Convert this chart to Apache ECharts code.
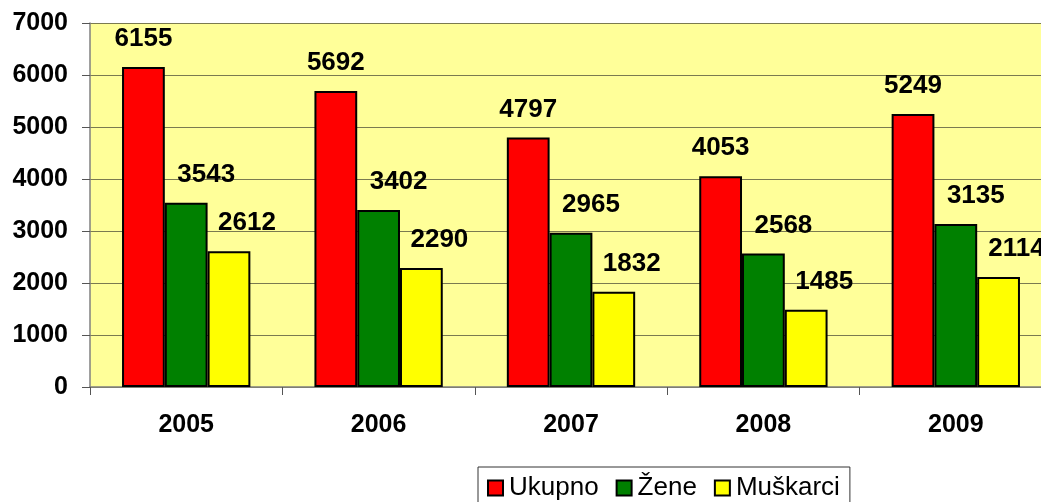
<!DOCTYPE html>
<head>
  <meta charset="utf-8">
  <script src="https://cdn.jsdelivr.net/npm/echarts@6/dist/echarts.min.js"></script>
  <style>
    html,body{margin:0;padding:0;background:#fff;}
    #chart{width:1041px;height:502px;}
  </style>
</head>
<body>
  <div id="chart"></div>
  <script>
    var years = ['2005', '2006', '2007', '2008', '2009'];
    var ukupno = [6155, 5692, 4797, 4053, 5249];
    var zene = [3543, 3402, 2965, 2568, 3135];
    var muskarci = [2612, 2290, 1832, 1485, 2114];
    var yTicks = [0, 1000, 2000, 3000, 4000, 5000, 6000, 7000];

    var font = "'Liberation Sans', Arial, sans-serif";
    function bar(name, data, color, dx){
      return {
        name: name,
        type: 'bar',
        data: data,
        barGap: '0%',
        barCategoryGap: '33.3%',
        itemStyle: {color: color, borderColor: '#000', borderWidth: 2},
        label: {
          show: true,
          position: 'top',
          distance: 15,
          offset: [dx, 0],
          color: '#000',
          fontFamily: font,
          fontWeight: 'bold',
          fontSize: 26
        }
      };
    }

    var myChart = echarts.init(document.getElementById('chart'));
    myChart.setOption({
      animation: false,
      backgroundColor: '#fff',
      grid: {
        left: 90, top: 23, bottom: 115, width: 962,
        outerBoundsMode: 'none', containLabel: false,
        show: true, backgroundColor: '#FFFF99', borderWidth: 0
      },
      legend: {
        left: 478, top: 467,
        padding: [8, 10, 8, 9],
        borderColor: '#333', borderWidth: 1,
        itemWidth: 15, itemHeight: 15, itemGap: 17,
        icon: 'rect',
        itemStyle: {borderColor: '#000', borderWidth: 2},
        textStyle: {fontFamily: font, fontSize: 26, color: '#000', padding: [0, 0, 0, 1]}
      },
      xAxis: {
        type: 'category',
        data: years,
        axisLine: {lineStyle: {color: '#808080', width: 1.5}},
        axisTick: {show: true, length: 8, lineStyle: {color: '#555'}},
        axisLabel: {margin: 26, color: '#000', fontFamily: font, fontWeight: 'bold', fontSize: 25}
      },
      yAxis: {
        type: 'value',
        min: yTicks[0], max: yTicks[yTicks.length - 1], interval: 1000,
        axisLine: {show: true, lineStyle: {color: '#808080', width: 1.5}},
        axisTick: {show: true, length: 8, lineStyle: {color: '#555'}},
        axisLabel: {
          margin: 22, color: '#000', fontFamily: font, fontWeight: 'bold', fontSize: 25,
          formatter: function(v){ return String(v); }
        },
        splitLine: {show: true, lineStyle: {color: '#7a7a50', width: 1}}
      },
      series: [
        bar('Ukupno', ukupno, '#FF0000', 0),
        bar('Žene', zene, '#008000', 20),
        bar('Muškarci', muskarci, '#FFFF00', 18)
      ]
    });
  </script>
</body>
